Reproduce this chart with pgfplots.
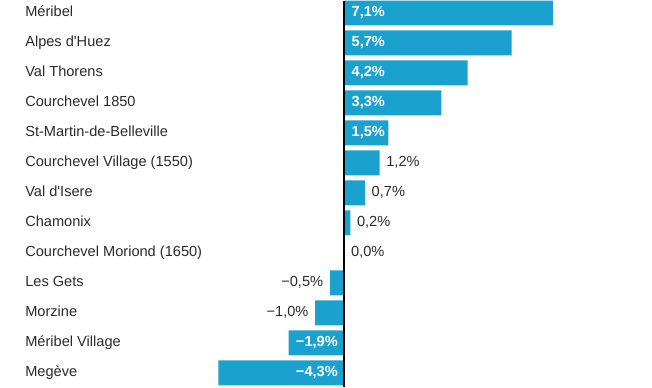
\documentclass[border=0pt]{standalone}
\usepackage{fontspec}
\setmainfont[Ligatures=TeXOff]{Liberation Sans}
\usepackage{pgfplots}
\pgfplotsset{compat=1.18}
\definecolor{barblue}{HTML}{1BA1CE}
\definecolor{txt}{HTML}{2A2A2A}
\newcommand{\lf}{\fontsize{14.6bp}{17bp}\selectfont}
\begin{document}
\begin{tikzpicture}
\begin{axis}[
  width=652bp, height=386bp, scale only axis,
  xmin=-11.74, xmax=10.48,
  ymin=-0.4, ymax=12.467, y dir=reverse,
  axis line style={draw=none},
  major tick length=0pt,
  xtick=\empty,
  ytick={0,...,12},
  yticklabels={M\'eribel,Alpes d'Huez,Val Thorens,Courchevel 1850,St-Martin-de-Belleville,Courchevel Village (1550),Val d'Isere,Chamonix,Courchevel Moriond (1650),Les Gets,Morzine,M\'eribel Village,Meg\`eve},
  yticklabel style={anchor=base west, inner sep=0pt, xshift=25bp, yshift=-3.6bp, font=\lf, text=txt},
  clip=false,
]
\path (rel axis cs:0,0) rectangle (rel axis cs:1,1);
\addplot[xbar, bar width=0.833, bar shift=0pt, fill=barblue, draw=none] coordinates {
 (7.1,0) (5.7,1) (4.2,2) (3.3,3) (1.5,4) (1.2,5) (0.7,6) (0.2,7) (0.0,8)
 (-0.5,9) (-1.0,10) (-1.9,11) (-4.3,12)};
% inside positive labels
\addplot[draw=none, mark=none, nodes near coords={\pgfplotspointmeta\%}, point meta=explicit symbolic,
  nodes near coords style={anchor=base west, inner sep=0pt, xshift=7bp, yshift=-3.6bp, font=\lf\bfseries, text=white}]
 table[x=x, y=y, meta=lab] {
x y lab
0 0 7,1
0 1 5,7
0 2 4,2
0 3 3,3
0 4 1,5
};
% outside positive labels
\addplot[draw=none, mark=none, nodes near coords={\pgfplotspointmeta\%}, point meta=explicit symbolic,
  nodes near coords style={anchor=base west, inner sep=0pt, xshift=6.5bp, yshift=-3.6bp, font=\lf, text=txt}]
 table[x=x, y=y, meta=lab] {
x y lab
1.2 5 1,2
0.7 6 0,7
0.2 7 0,2
0.0 8 0,0
};
% outside negative labels
\addplot[draw=none, mark=none, nodes near coords={\pgfplotspointmeta\%}, point meta=explicit symbolic,
  nodes near coords style={anchor=base east, inner sep=0pt, xshift=-6.5bp, yshift=-3.6bp, font=\lf, text=txt}]
 table[x=x, y=y, meta=lab] {
x y lab
-0.5 9 −0,5
-1.0 10 −1,0
};
% inside negative labels
\addplot[draw=none, mark=none, nodes near coords={\pgfplotspointmeta\%}, point meta=explicit symbolic,
  nodes near coords style={anchor=base east, inner sep=0pt, xshift=-6.5bp, yshift=-3.6bp, font=\lf\bfseries, text=white}]
 table[x=x, y=y, meta=lab] {
x y lab
0 11 −1,9
0 12 −4,3
};
\draw[black, line width=2bp] (axis cs:0,-0.4) -- (axis cs:0,12.467);
\end{axis}
\end{tikzpicture}
\end{document}
